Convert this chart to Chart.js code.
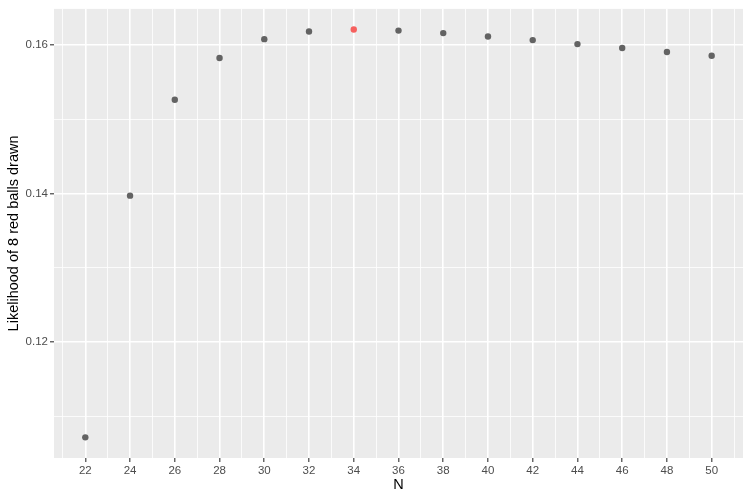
<!DOCTYPE html>
<html>
<head>
<meta charset="utf-8">
<script src="https://cdn.jsdelivr.net/npm/chart.js@4"></script>
<style>
html,body{margin:0;padding:0;background:#fff;}
#wrap{width:750px;height:500px;}
</style>
</head>
<body>
<div id="wrap"><canvas id="c" width="750" height="500"></canvas></div>
<script>
const nValues = [22, 24, 26, 28, 30, 32, 34, 36, 38, 40, 42, 44, 46, 48, 50];
const likelihood = [0.10719, 0.13973, 0.15263, 0.15826, 0.16080, 0.16182, 0.16209, 0.16195, 0.16161, 0.16115, 0.16067, 0.16013, 0.15960, 0.15906, 0.15857];
const xTicks = [22, 24, 26, 28, 30, 32, 34, 36, 38, 40, 42, 44, 46, 48, 50];
const yTicks = [0.12, 0.14, 0.16];

const maxIdx = likelihood.indexOf(Math.max(...likelihood));
const points = nValues.map((n, i) => ({x: n, y: likelihood[i]}));
const colors = likelihood.map((v, i) => i === maxIdx ? 'rgb(246,96,94)' : '#636363');

const panelBg = {
  id: 'panelBg',
  beforeDraw(chart) {
    const {ctx, chartArea: a} = chart;
    ctx.save();
    ctx.fillStyle = '#EBEBEB';
    ctx.fillRect(a.left, a.top, a.right - a.left, a.bottom - a.top);
    ctx.restore();
  }
};

const isMajorX = v => xTicks.includes(v);
const isMajorY = v => yTicks.some(t => Math.abs(t - v) < 1e-9);

new Chart(document.getElementById('c'), {
  type: 'scatter',
  data: {
    datasets: [{
      data: points,
      pointBackgroundColor: colors,
      pointBorderColor: colors,
      pointRadius: 3.2,
      pointHoverRadius: 3.2,
      borderWidth: 0
    }]
  },
  plugins: [panelBg],
  options: {
    responsive: false,
    animation: false,
    events: [],
    layout: {padding: {left: 0, top: 7, right: 7, bottom: 0}},
    plugins: {legend: {display: false}, tooltip: {enabled: false}},
    scales: {
      x: {
        type: 'linear',
        min: 20.6,
        max: 51.4,
        afterBuildTicks(scale) {
          const t = [];
          for (let v = 21; v <= 51; v++) t.push({value: v});
          scale.ticks = t;
        },
        afterFit(scale) { scale.height = 42; },
        border: {display: false},
        grid: {
          color: '#FFFFFF',
          lineWidth: ctx => isMajorX(ctx.tick.value) ? 1.6 : 0.8,
          drawTicks: true,
          tickLength: 4,
          tickColor: ctx => isMajorX(ctx.tick.value) ? '#333333' : 'rgba(0,0,0,0)',
          tickWidth: 1.1
        },
        ticks: {
          autoSkip: false,
          maxRotation: 0,
          padding: 2,
          color: '#4D4D4D',
          font: {family: 'Liberation Sans, Arial, sans-serif', size: 11.5},
          callback: v => isMajorX(v) ? String(v) : ''
        },
        title: {
          display: true,
          text: 'N',
          color: '#000000',
          font: {family: 'Liberation Sans, Arial, sans-serif', size: 14.5},
          padding: {top: 2, bottom: 6}
        }
      },
      y: {
        type: 'linear',
        min: 0.10441,
        max: 0.16487,
        afterBuildTicks(scale) {
          scale.ticks = [0.11, 0.12, 0.13, 0.14, 0.15, 0.16].map(v => ({value: v}));
        },
        afterFit(scale) { scale.width = 54; },
        border: {display: false},
        grid: {
          color: '#FFFFFF',
          lineWidth: ctx => isMajorY(ctx.tick.value) ? 1.6 : 0.8,
          drawTicks: true,
          tickLength: 4,
          tickColor: ctx => isMajorY(ctx.tick.value) ? '#333333' : 'rgba(0,0,0,0)',
          tickWidth: 1.1
        },
        ticks: {
          autoSkip: false,
          padding: 2,
          color: '#4D4D4D',
          font: {family: 'Liberation Sans, Arial, sans-serif', size: 11.5},
          callback: v => isMajorY(v) ? v.toFixed(2) : ''
        },
        title: {
          display: true,
          text: 'Likelihood of 8 red balls drawn',
          color: '#000000',
          font: {family: 'Liberation Sans, Arial, sans-serif', size: 14.5},
          padding: {top: 5, bottom: 4}
        }
      }
    }
  }
});
</script>
</body>
</html>
